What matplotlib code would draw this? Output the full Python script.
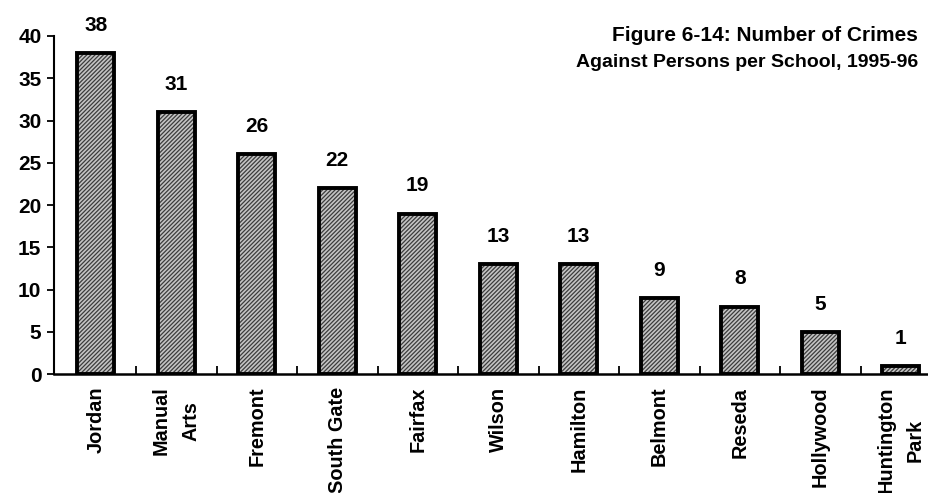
import matplotlib
matplotlib.use("Agg")
import matplotlib.pyplot as plt

schools = ["Jordan", "Manual\nArts", "Fremont", "South Gate", "Fairfax", "Wilson",
           "Hamilton", "Belmont", "Reseda", "Hollywood", "Huntington\nPark"]
crimes = [38, 31, 26, 22, 19, 13, 13, 9, 8, 5, 1]
yticks = [0, 5, 10, 15, 20, 25, 30, 35, 40]

plt.rcParams["font.family"] = ["Liberation Sans", "DejaVu Sans"]
plt.rcParams["hatch.linewidth"] = 0.9

fig = plt.figure(figsize=(9.29, 4.93), dpi=100)
ax = fig.add_axes([0.058, 0.241, 0.942, 0.686])

x = list(range(len(schools)))
# textured fill, then a heavy black outline on top
ax.bar(x, crimes, width=0.46, color="#c4c4c4", edgecolor="#3c3c3c",
       hatch="////////", linewidth=0, zorder=2)
ax.bar(x, crimes, width=0.46, fill=False, edgecolor="black",
       linewidth=2.8, zorder=3)

for xi, v in zip(x, crimes):
    ax.annotate(str(v), (xi, v), xytext=(0, 13), textcoords="offset points",
                ha="center", va="bottom", fontsize=15, fontweight="bold")

ax.set_xlim(-0.52, 10.35)
ax.set_ylim(0, 40)
ax.set_yticks(yticks)
ax.set_yticklabels([str(t) for t in yticks], fontsize=15, fontweight="bold")
ax.tick_params(axis="y", direction="out", length=5, width=1.3, pad=4)

ax.set_xticks(x)
ax.set_xticklabels(schools, rotation=90, fontsize=14.3, fontweight="bold",
                   ha="center", va="top", multialignment="center",
                   linespacing=1.7)
ax.tick_params(axis="x", length=0, pad=9)
# small separator ticks between categories, pointing up
ax.set_xticks([i + 0.5 for i in range(len(schools) - 1)], minor=True)
ax.tick_params(axis="x", which="minor", direction="in", length=6, width=1.3)

for side in ["top", "right"]:
    ax.spines[side].set_visible(False)
ax.spines["left"].set_linewidth(1.5)
ax.spines["bottom"].set_linewidth(1.8)

fig.text(0.988, 0.929, "Figure 6-14: Number of Crimes",
         ha="right", va="center", fontsize=15, fontweight="bold")
fig.text(0.988, 0.874, "Against Persons per School, 1995-96",
         ha="right", va="center", fontsize=14, fontweight="bold")

fig.savefig("out.png", dpi=100)
